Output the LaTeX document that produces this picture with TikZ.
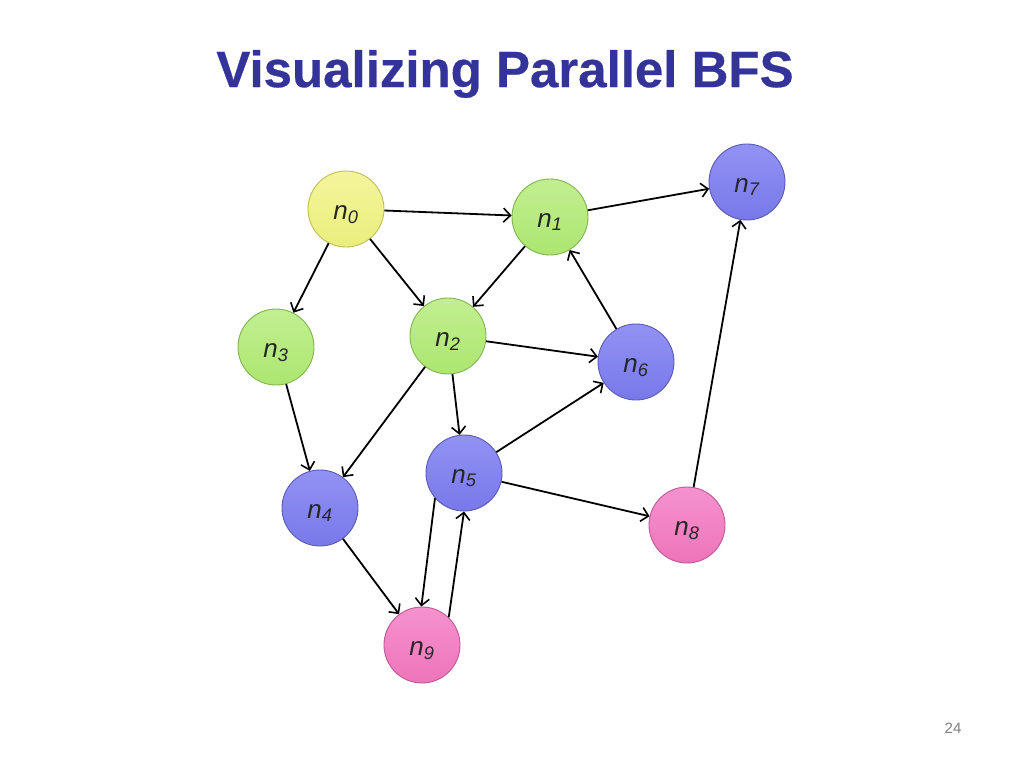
\documentclass[tikz,border=0pt]{standalone}
\usepackage{fontspec}
\setmainfont{Liberation Sans}
\newfontfamily\titlefont{Liberation Sans}[BoldFeatures={FakeBold=0.5}]
\usetikzlibrary{arrows.meta}
\definecolor{titleblue}{RGB}{51,51,153}
\definecolor{yelbase}{RGB}{234,238,124}
\definecolor{yeltop}{RGB}{244,245,155}
\definecolor{yeledge}{RGB}{190,190,90}
\definecolor{grnbase}{RGB}{172,230,112}
\definecolor{grntop}{RGB}{194,239,145}
\definecolor{grnedge}{RGB}{130,180,80}
\definecolor{blubase}{RGB}{120,120,234}
\definecolor{blutop}{RGB}{146,146,244}
\definecolor{bluedge}{RGB}{90,90,180}
\definecolor{pnkbase}{RGB}{238,116,186}
\definecolor{pnktop}{RGB}{245,146,206}
\definecolor{pnkedge}{RGB}{190,90,150}
\tikzset{
  gnode/.style={circle, minimum size=76pt, inner sep=0pt, line width=0.9pt,
    font=\fontsize{26}{30}\selectfont\itshape, text=black!85},
  ynode/.style={gnode, draw=yeledge, top color=yeltop, bottom color=yelbase},
  grnode/.style={gnode, draw=grnedge, top color=grntop, bottom color=grnbase},
  blnode/.style={gnode, draw=bluedge, top color=blutop, bottom color=blubase},
  pknode/.style={gnode, draw=pnkedge, top color=pnktop, bottom color=pnkbase},
  edge/.style={line width=1.8pt, -{Straight Barb[length=7pt,width=14pt,line width=1.6pt]}}
}
\newcommand{\lbl}[1]{\raisebox{-10pt}[0pt][0pt]{n\textsubscript{#1}}}
\begin{document}
\begin{tikzpicture}[x=1pt,y=-1pt]
\useasboundingbox (0,0) rectangle (1024,768);
\fill[white] (0,0) rectangle (1024,768);
\node[font=\titlefont\fontsize{51}{56}\selectfont\bfseries, text=titleblue] (title) at (505,74) {Visualizing Parallel BFS};
\node[font=\fontsize{15}{18}\selectfont, text=black!50] (page) at (953,728) {24};

\node[ynode] (n0) at (346,209) {\lbl{0}};
\node[grnode] (n1) at (550,217) {\lbl{1}};
\node[grnode] (n2) at (448,336) {\lbl{2}};
\node[grnode] (n3) at (276,347) {\lbl{3}};
\node[blnode] (n4) at (320,508) {\lbl{4}};
\node[blnode] (n5) at (464,473) {\lbl{5}};
\node[blnode] (n6) at (636,362) {\lbl{6}};
\node[blnode] (n7) at (747,182) {\lbl{7}};
\node[pknode] (n8) at (687,525) {\lbl{8}};
\node[pknode] (n9) at (422,645) {\lbl{9}};

\draw[edge] (n0) -- (n1);
\draw[edge] (n0) -- (n3);
\draw[edge] (n0) -- (n2);
\draw[edge] (n1) -- (n7);
\draw[edge] (n1) -- (n2);
\draw[edge] (n2) -- (n6);
\draw[edge] (n2) -- (n4);
\draw[edge] (n2) -- (n5);
\draw[edge] (n3) -- (n4);
\draw[edge] (n6) -- (n1);
\draw[edge] (n5) -- (n6);
\draw[edge] (n5) -- (n8);
\draw[edge] (n4) -- (n9);
\draw[edge] (n8) -- (n7);
\draw[edge] (n5.-139) -- (n9.91);
\draw[edge] (n9.46) -- (n5.-90);
\end{tikzpicture}
\end{document}
